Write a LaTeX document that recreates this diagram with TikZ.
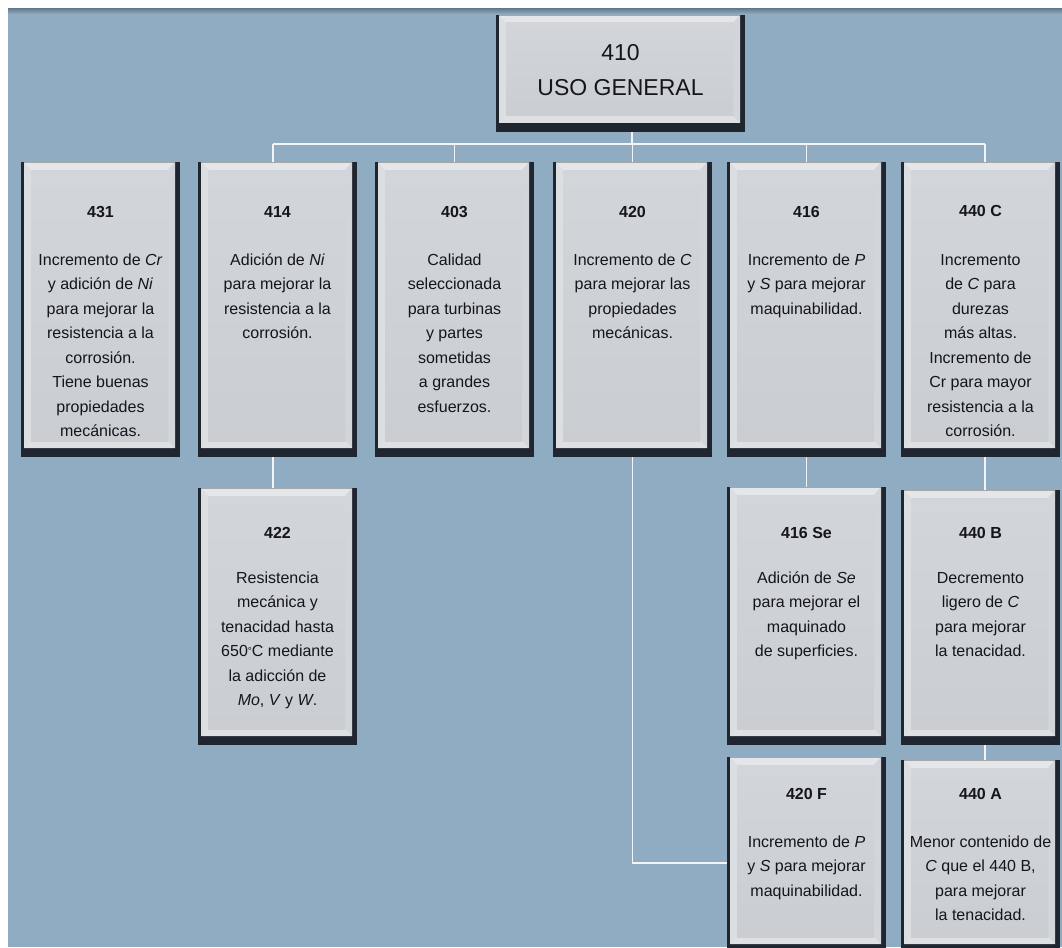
\documentclass[tikz,border=0pt]{standalone}
\usepackage{fontspec}
\setmainfont{Liberation Sans}
\usetikzlibrary{calc}

\definecolor{bg}{HTML}{90ACC2}
\definecolor{bgtop}{HTML}{6A7F93}
\definecolor{rimdark}{HTML}{1F262F}
\definecolor{rimtop}{HTML}{E4E6E9}
\definecolor{rimleft}{HTML}{DCDFE2}
\definecolor{rimright}{HTML}{D2D5D9}
\definecolor{rimbottom}{HTML}{DEE0E3}
\definecolor{facetop}{HTML}{D2D5D9}
\definecolor{facebot}{HTML}{CACED3}
\definecolor{ink}{HTML}{15151D}
\definecolor{wirec}{HTML}{F2F5F8}

\tikzset{
  % bevelled grey panel: dark rim, light bevels, flat face
  panel/.style={rectangle, inner sep=0pt, fill=rimdark,
    minimum width=#1,
    path picture={
      \coordinate (pSW) at ($(path picture bounding box.south west)+(3pt,9pt)$);
      \coordinate (pNE) at ($(path picture bounding box.north east)+(-5pt,0pt)$);
      \coordinate (iSW) at ($(pSW)+(7pt,7pt)$);
      \coordinate (iNE) at ($(pNE)+(-7pt,-8pt)$);
      \fill[rimtop] (pSW) rectangle (pNE);
      \fill[rimleft] (pSW) -- (iSW) -- (iSW|-iNE) -- (pSW|-pNE) -- cycle;
      \fill[rimright] (pSW-|pNE) -- (pNE) -- (iNE) -- (iNE|-iSW) -- cycle;
      \fill[rimbottom] (pSW) -- (pSW-|pNE) -- (iNE|-iSW) -- (iSW) -- cycle;
      \shade[top color=facetop, bottom color=facebot] (iSW) rectangle (iNE);
      \draw[gray!70, line width=0.8pt] ($(path picture bounding box.north west)+(3pt,-0.4pt)$) -- ($(path picture bounding box.north east)+(-5pt,-0.4pt)$);
    }},
  panel/.default=159pt,
  head/.style={anchor=base, inner sep=0pt, text=ink, font=\fontsize{16}{19}\selectfont\bfseries},
  body/.style={anchor=north, inner sep=0pt, align=center, text=ink, font=\fontsize{16}{24.5}\selectfont},
  wire/.style={draw=wirec, line width=1.4pt},
}

\begin{document}
\begin{tikzpicture}[x=1pt, y=-1pt]
  \useasboundingbox (0,0) rectangle (1062,947);
  \clip (0,0) rectangle (1062,947);

  % backdrop
  \fill[white] (0,0) rectangle (1062,947);
  \fill[bg] (8,9) rectangle (1062,947);
  \shade[top color=bgtop, bottom color=bg] (8,9) rectangle (1062,14);

  % panels
  \node[panel=249pt, minimum height=117pt] (b410) at (620.5,73.5) {};
  \node[panel, minimum height=295pt] (b431) at (100.5,309.5) {};
  \node[panel, minimum height=295pt] (b414) at (277.5,309.5) {};
  \node[panel, minimum height=295pt] (b403) at (454.5,309.5) {};
  \node[panel, minimum height=295pt] (b420) at (632.5,309.5) {};
  \node[panel, minimum height=295pt] (b416) at (806.5,309.5) {};
  \node[panel, minimum height=295pt] (b440c) at (980.5,309.5) {};
  \node[panel, minimum height=257pt] (b422) at (277.5,616.5) {};
  \node[panel, minimum height=258pt] (b416se) at (806.5,616) {};
  \node[panel, minimum height=255pt] (b440b) at (980.5,617.5) {};
  \node[panel, minimum height=196pt] (b420f) at (806.5,855) {};
  \node[panel, minimum height=193pt] (b440a) at (980.5,856.5) {};

  % connectors
  \coordinate (busL) at (273,144);
  \coordinate (busR) at (985,144);
  \draw[wire] (busL) -- (busR);
  \draw[wire] ([xshift=11.5pt]b410.south) -- ([xshift=11.5pt]b410.south |- busL);
  \draw[wire] (busL) -- (busL |- b414.north);
  \draw[wire] (b403.north |- busL) -- (b403.north);
  \draw[wire] (b420.north |- busL) -- (b420.north);
  \draw[wire] (b416.north |- busL) -- (b416.north);
  \draw[wire] (busR) -- (busR |- b440c.north);
  \draw[wire] (busL |- b414.south) -- (busL |- b422.north);
  \draw[wire] (b416.south) -- (b416se.north);
  \draw[wire] (busR |- b440c.south) -- (busR |- b440b.north);
  \draw[wire] (busR |- b440b.south) -- (busR |- b440a.north);
  \draw[wire] (b420.south) |- ([yshift=-8pt]b420f.west);

  % title
  \node[anchor=base, inner sep=0pt, text=ink, font=\fontsize{23}{28}\selectfont] (t410a) at (620.5,61) {410};
  \node[anchor=base, inner sep=0pt, text=ink, font=\fontsize{23}{28}\selectfont] (t410b) at (620.5,96) {USO GENERAL};

  % first row
  \node[head] (h431) at (100.5,217) {431};
  \node[body] (d431) at (100.5,247.85) {\strut Incremento de \textit{Cr}\\ y adición de \textit{Ni}\\ para mejorar la\\ resistencia a la\\ corrosión.\\ Tiene buenas\\ propiedades\\ mecánicas.};
  \node[head] (h414) at (277.5,217) {414};
  \node[body] (d414) at (277.5,247.85) {\strut Adición de \textit{Ni}\\ para mejorar la\\ resistencia a la\\ corrosión.};
  \node[head] (h403) at (454.5,217) {403};
  \node[body] (d403) at (454.5,247.85) {\strut Calidad\\ seleccionada\\ para turbinas\\ y partes\\ sometidas\\ a grandes\\ esfuerzos.};
  \node[head] (h420) at (632.5,217) {420};
  \node[body] (d420) at (632.5,247.85) {\strut Incremento de \textit{C}\\ para mejorar las\\ propiedades\\ mecánicas.};
  \node[head] (h416) at (806.5,217) {416};
  \node[body] (d416) at (806.5,247.85) {\strut Incremento de \textit{P}\\ y \textit{S} para mejorar\\ maquinabilidad.};
  \node[head] (h440c) at (980.5,216) {440 C};
  \node[body] (d440c) at (980.5,247.85) {\strut Incremento\\ de \textit{C} para\\ durezas\\ más altas.\\ Incremento de\\ Cr para mayor\\ resistencia a la\\ corrosión.};

  % second row
  \node[head] (h422) at (277.5,538) {422};
  \node[body] (d422) at (277.5,565.85) {\strut Resistencia\\ mecánica y\\ tenacidad hasta\\ 650{\fontsize{10}{12}\selectfont\raisebox{2pt}{°}}C mediante\\ la adicción de\\ \textit{Mo}, \textit{V} y \textit{W}.};
  \node[head] (h416se) at (806.5,538) {416 Se};
  \node[body] (d416se) at (806.5,565.85) {\strut Adición de \textit{Se}\\ para mejorar el\\ maquinado\\ de superficies.};
  \node[head] (h440b) at (980.5,538) {440 B};
  \node[body] (d440b) at (980.5,565.85) {\strut Decremento\\ ligero de \textit{C}\\ para mejorar\\ la tenacidad.};

  % third row
  \node[head] (h420f) at (806.5,799) {420 F};
  \node[body] (d420f) at (806.5,829.85) {\strut Incremento de \textit{P}\\ y \textit{S} para mejorar\\ maquinabilidad.};
  \node[head] (h440a) at (980.5,799) {440 A};
  \node[body] (d440a) at (980.5,829.85) {\strut Menor contenido de\\ \textit{C} que el 440 B,\\ para mejorar\\ la tenacidad.};
\end{tikzpicture}
\end{document}
